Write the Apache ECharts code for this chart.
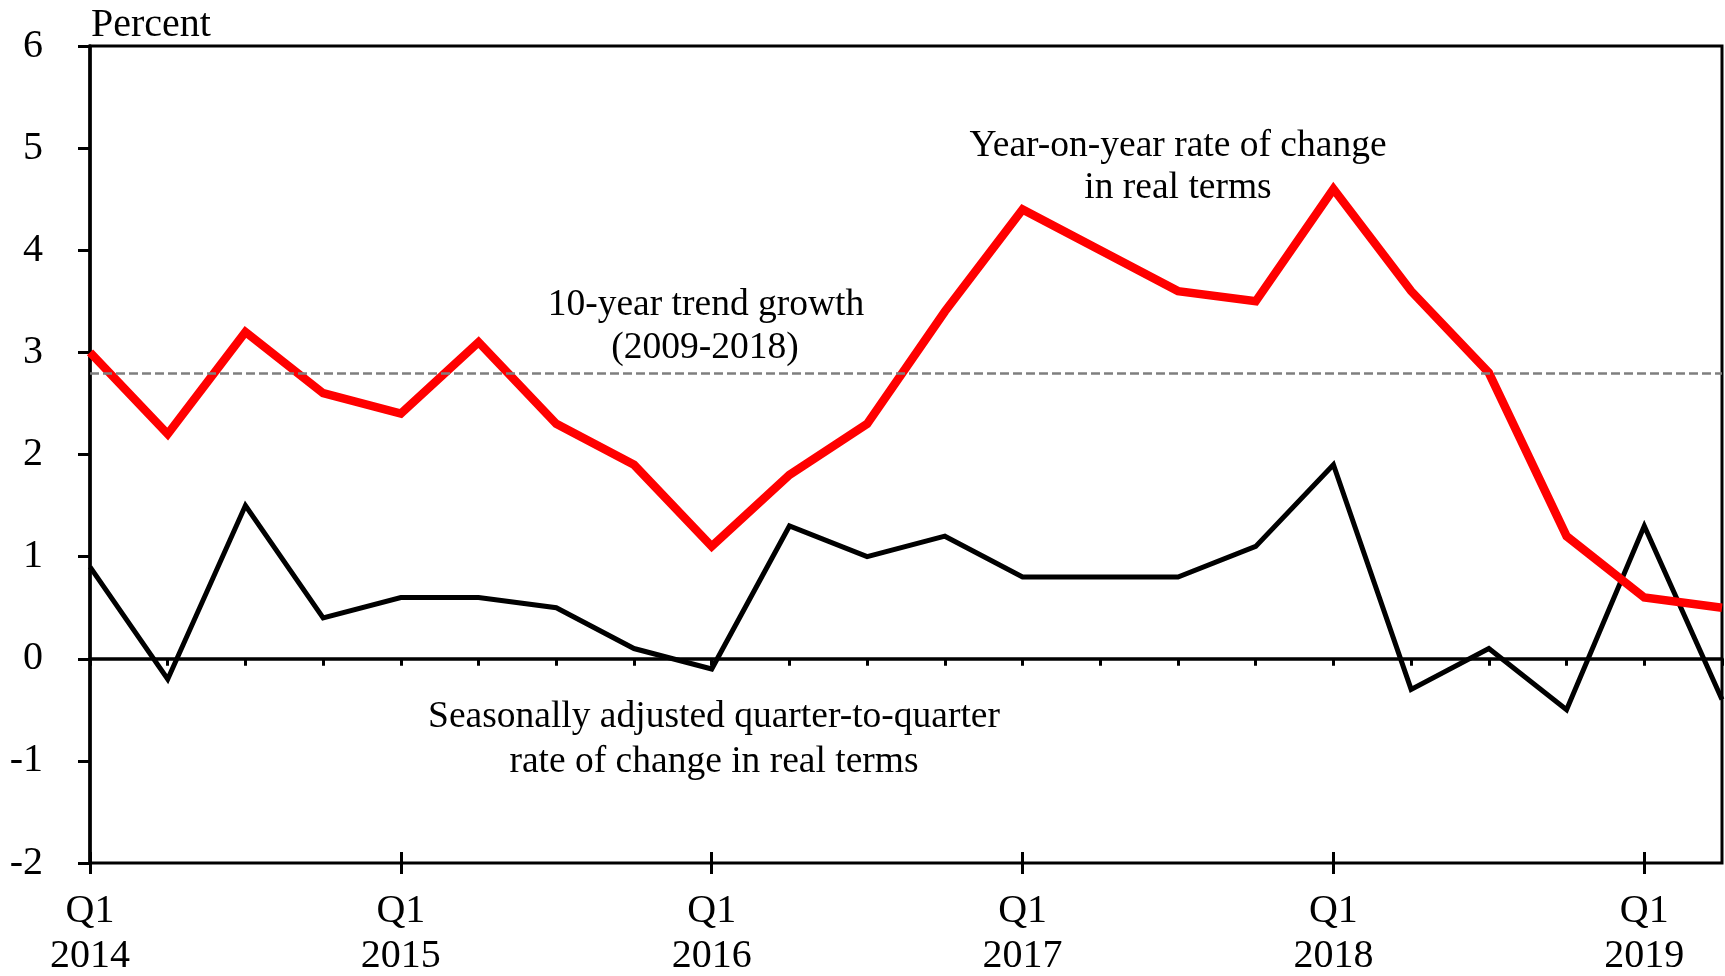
<!DOCTYPE html>
<html>
<head>
<meta charset="utf-8">
<script src="https://cdn.jsdelivr.net/npm/echarts@6/dist/echarts.min.js"></script>
<style>html,body{margin:0;padding:0;background:#fff}#c{width:1725px;height:976px}</style>
</head>
<body>
<div id="c"></div>
<script>
// ---- data ----
const categories = [
  'Q1 2014','Q2 2014','Q3 2014','Q4 2014',
  'Q1 2015','Q2 2015','Q3 2015','Q4 2015',
  'Q1 2016','Q2 2016','Q3 2016','Q4 2016',
  'Q1 2017','Q2 2017','Q3 2017','Q4 2017',
  'Q1 2018','Q2 2018','Q3 2018','Q4 2018',
  'Q1 2019','Q2 2019'
];
const yoyReal = [3.0, 2.2, 3.2, 2.6, 2.4, 3.1, 2.3, 1.9, 1.1, 1.8, 2.3, 3.4, 4.4, 4.0, 3.6, 3.5, 4.6, 3.6, 2.8, 1.2, 0.6, 0.5];
const qoqSA   = [0.9, -0.2, 1.5, 0.4, 0.6, 0.6, 0.5, 0.1, -0.1, 1.3, 1.0, 1.2, 0.8, 0.8, 0.8, 1.1, 1.9, -0.3, 0.1, -0.5, 1.3, -0.4];
const trendGrowth = 2.8;
const yMin = -2, yMax = 6, yStep = 1;
const unitLabel = 'Percent';
const trendText = ['10-year trend growth', '(2009-2018)'];
const yoyText = ['Year-on-year rate of change', 'in real terms'];
const qoqText = ['Seasonally adjusted quarter-to-quarter', 'rate of change in real terms'];

// ---- chart ----
const FONT = '"Liberation Serif","Times New Roman",serif';
const chart = echarts.init(document.getElementById('c'), null, {renderer: 'canvas'});

function label(text, x, y, size, align) {
  return {
    type: 'text', x: x, y: y, silent: true, z: 10,
    style: {
      text: text, fill: '#000',
      font: size + 'px ' + FONT,
      textAlign: align || 'center',
      textVerticalAlign: 'middle', verticalAlign: 'middle'
    }
  };
}

const tickStyle = {color: '#000', width: 3};
const hiddenCat = (extra) => Object.assign({
  type: 'category', data: categories, boundaryGap: false, position: 'bottom',
  axisLine: {show: false}, axisLabel: {show: false}, splitLine: {show: false}
}, extra);

chart.setOption({
  animation: false,
  backgroundColor: '#fff',
  grid: {
    left: 90, top: 46, right: 3, bottom: 113,
    containLabel: false, outerBoundsMode: 'none',
    show: true, borderColor: '#000', borderWidth: 3, backgroundColor: 'transparent'
  },
  xAxis: [
    {
      type: 'category', data: categories, boundaryGap: false, position: 'bottom',
      axisLine: {lineStyle: {color: '#000', width: 3.5}},
      axisTick: {interval: 0, length: 7, lineStyle: tickStyle},
      axisLabel: {
        interval: 3, margin: 26, color: '#000', fontFamily: FONT, fontSize: 40, lineHeight: 45,
        formatter: v => v.indexOf('Q1') === 0 ? v.replace(' ', '\n') : ''
      },
      splitLine: {show: false}
    },
    hiddenCat({axisTick: {interval: 3, length: 11, lineStyle: tickStyle}}),
    hiddenCat({axisTick: {interval: 3, length: 11, inside: true, lineStyle: tickStyle}})
  ],
  yAxis: {
    type: 'value', min: yMin, max: yMax, interval: yStep,
    axisLine: {show: true, lineStyle: {color: '#000', width: 3.5}},
    axisTick: {show: true, length: 12, lineStyle: tickStyle},
    axisLabel: {margin: 47, color: '#000', fontFamily: FONT, fontSize: 40},
    splitLine: {show: false}
  },
  series: [
    {
      name: 'qoq', type: 'line', data: qoqSA, xAxisIndex: 0, z: 2,
      symbol: 'none', showSymbol: false,
      lineStyle: {color: '#000', width: 5, join: 'miter', cap: 'butt'},
      markLine: {
        silent: true, symbol: ['none', 'none'], label: {show: false},
        data: [
          {yAxis: 0, lineStyle: {color: '#000', width: 2, type: 'solid'}},
          {yAxis: trendGrowth, lineStyle: {color: '#7f7f7f', width: 2.5, type: [9, 4]}}
        ]
      }
    },
    {
      name: 'yoy', type: 'line', data: yoyReal, xAxisIndex: 0, z: 3,
      symbol: 'none', showSymbol: false,
      lineStyle: {color: '#ff0000', width: 8.5, join: 'miter', cap: 'butt'}
    }
  ],
  graphic: [
    label(unitLabel, 91, 25, 40, 'left'),
    label(trendText[0], 706, 305, 37.5),
    label(trendText[1], 705, 348, 37.5),
    label(yoyText[0], 1178, 146, 37.5),
    label(yoyText[1], 1178, 188, 37.5),
    label(qoqText[0], 714, 717, 37.5),
    label(qoqText[1], 714, 762, 37.5)
  ]
});
</script>
</body>
</html>
